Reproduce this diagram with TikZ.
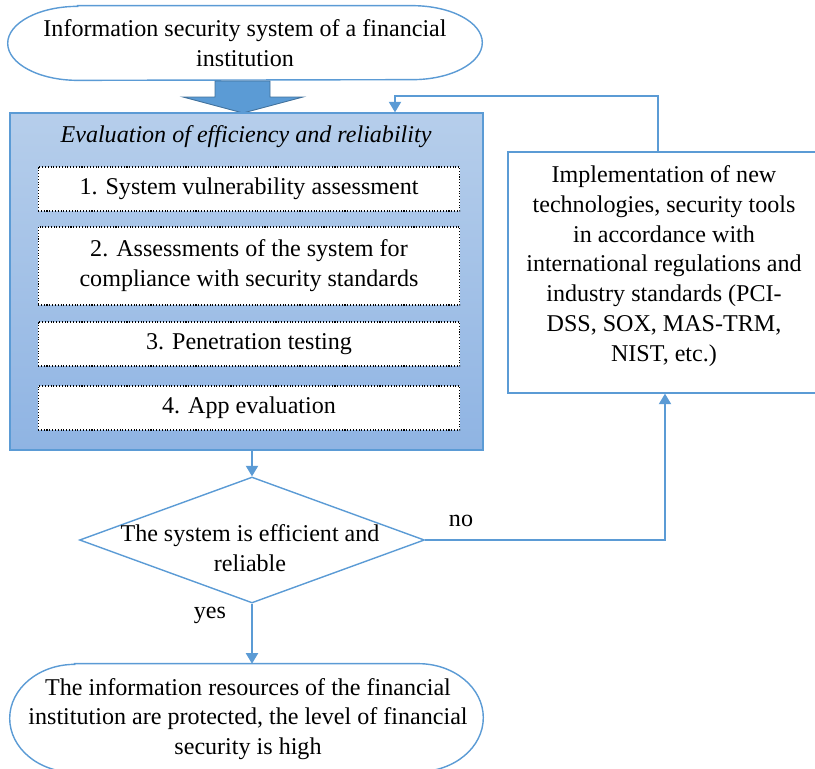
\documentclass[tikz,border=0pt]{standalone}
\usepackage{fontspec}
\setmainfont{Liberation Serif}
\usetikzlibrary{shapes.geometric,arrows.meta}
\definecolor{lineblue}{RGB}{91,155,213}
\definecolor{shadetop}{RGB}{182,206,235}
\definecolor{shadebot}{RGB}{143,180,227}
\definecolor{arrowedge}{RGB}{65,113,156}
\tikzset{
  txt/.style={font=\fontsize{13.7}{17}\selectfont, align=center},
  flow/.style={draw=lineblue, line width=0.7pt, -{Triangle[length=6pt,width=7pt]}},
  capline/.style={draw=lineblue, line width=0.8pt, fill=white},
  stepbox/.style={draw=black, densely dotted, line width=0.6pt, fill=white,
    minimum width=8.44cm, inner sep=0pt, txt},
}
\begin{document}
\begin{tikzpicture}[x=0.02cm, y=-0.02cm]
  \useasboundingbox (0,0) rectangle (815,768);
  % start and big arrow
  \node[txt, minimum width=9.48cm, minimum height=1.48cm, inner sep=0pt] (source) at (245,43) {};
  \draw[capline] ([xshift=1.4cm]source.north west) -- ([xshift=-1.4cm]source.north east)
    arc[start angle=90, end angle=-90, x radius=1.4cm, y radius=0.74cm]
    -- ([xshift=1.4cm]source.south west)
    arc[start angle=270, end angle=90, x radius=1.4cm, y radius=0.74cm] -- cycle;
  \node[txt] (sourcetxt) at (source) {Information security system of a financial\\institution};
  \filldraw[fill=lineblue, draw=arrowedge, line width=0.5pt]
    (215,81) -- (270,81) -- (270,97) -- (303,97) -- (243,113) -- (183,97) -- (215,97) -- cycle;
  % evaluation block
  \node[draw=lineblue, line width=0.8pt, top color=shadetop, bottom color=shadebot,
    minimum width=9.46cm, minimum height=6.74cm, inner sep=0pt] (eval) at (246.5,281.5) {};
  \node[txt, font=\fontsize{13.7}{17}\selectfont\itshape] (evaltitle) at (246,137) {Evaluation of efficiency and reliability};
  \node[stepbox, minimum height=0.88cm] (step1) at (249,189) {1. System vulnerability assessment};
  \node[stepbox, minimum height=1.56cm] (step2) at (249,266) {2. Assessments of the system for\\compliance with security standards};
  \node[stepbox, minimum height=0.88cm] (step3) at (249,344) {3. Penetration testing};
  \node[stepbox, minimum height=0.88cm] (step4) at (249,408) {4. App evaluation};
  % decision
  \node[diamond, draw=lineblue, line width=0.8pt, inner sep=0pt,
    minimum width=6.9cm, minimum height=2.52cm] (check) at (252,540) {};
  \node[txt] (checktxt) at (250,548) {The system is efficient and\\reliable};
  % new technologies
  \node[draw=lineblue, line width=0.8pt, minimum width=6.28cm, minimum height=4.82cm,
    inner sep=0pt] (impl) at (665,272.5) {};
  \node[txt] (impltxt) at (664,266) {Implementation of new\\technologies, security tools\\in accordance with\\international regulations and\\industry standards (PCI-\\DSS, SOX, MAS-TRM,\\NIST, etc.)};
  % result
  \node[minimum width=9.46cm, minimum height=2.16cm, inner sep=0pt] (result) at (246.5,718) {};
  \draw[capline] ([xshift=1.3cm]result.north west) -- ([xshift=-1.3cm]result.north east)
    arc[start angle=90, end angle=-90, x radius=1.3cm, y radius=1.08cm]
    -- ([xshift=1.3cm]result.south west)
    arc[start angle=270, end angle=90, x radius=1.3cm, y radius=1.08cm] -- cycle;
  \node[txt] (resulttxt) at (248,719) {The information resources of the financial\\institution are protected, the level of financial\\security is high};
  % connectors
  \coordinate (back) at (395,96);
  \draw[flow] (check.north |- eval.south) -- (check.north);
  \draw[flow] (check.south) -- (check.south |- result.north);
  \draw[flow] (check.east) -| (impl.south);
  \draw[flow] ([xshift=-0.14cm]impl.north) |- (back) -- (back |- eval.north);
  \node[txt] (no) at (461,521) {no};
  \node[txt] (yes) at (210,615) {yes};
\end{tikzpicture}
\end{document}
